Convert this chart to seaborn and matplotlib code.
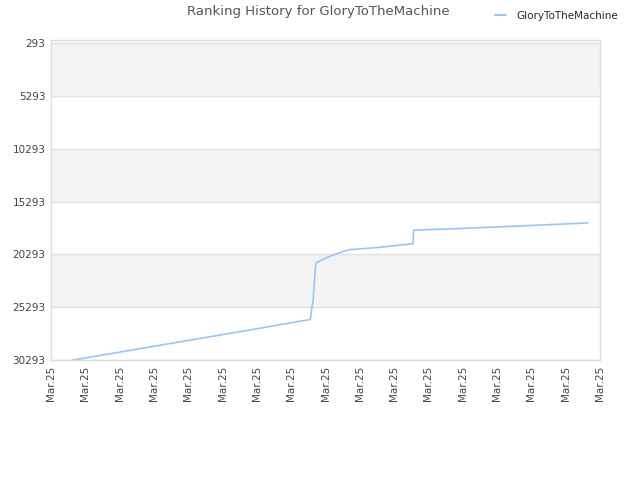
import numpy as np
import pandas as pd
import matplotlib
matplotlib.use("Agg")
import matplotlib.pyplot as plt
import seaborn as sns

# ranking history (x in tick units)
steps = [0.64, 2.0, 4.0, 6.0, 7.56, 7.6, 7.64, 7.68, 7.72, 7.96, 8.26, 8.5, 8.7,
         9.5, 10.55, 10.57, 11.5, 13.0, 15.65]
ranks = [30293, 29550, 28440, 27340, 26450, 25390, 24630, 22740, 21100, 20700,
         20310, 20040, 19850, 19650, 19280, 18000, 17900, 17700, 17320]
tick_labels = ["Mar.25"] * 17
player = "GloryToTheMachine"
y_ticks = [293, 5293, 10293, 15293, 20293, 25293, 30293]

df = pd.DataFrame({"step": steps, "rank": ranks, "player": player})

sns.set_style("white")
plt.rcParams["font.family"] = ["DejaVu Sans"]

fig = plt.figure(figsize=(6.4, 4.8), dpi=100)
ax = fig.add_axes([51 / 640, 120 / 480, 549 / 640, 320 / 480])

# alternating bands
for i in range(len(y_ticks) - 1):
    if i % 2 == 0:
        ax.axhspan(y_ticks[i], y_ticks[i + 1], color="#f3f3f3", zorder=0, lw=0)
for t in y_ticks:
    ax.axhline(t, color="#e0e0e0", lw=1, zorder=1)

sns.lineplot(data=df, x="step", y="rank", hue="player", palette=["#99c7f5"],
             lw=1.2, ax=ax, zorder=3)

ax.set_xlim(0, 16)
ax.set_ylim(30293, 0)
ax.set_yticks(y_ticks)
ax.set_yticklabels([str(t) for t in y_ticks], fontsize=7.5, color="#444444")
ax.set_xticks(np.arange(17))
ax.set_xticklabels(tick_labels, rotation=90, fontsize=7.5, color="#444444")
ax.tick_params(length=0, pad=4)
ax.set_xlabel("")
ax.set_ylabel("")
for s in ax.spines.values():
    s.set_color("#dddddd")
    s.set_linewidth(1)

fig.text(0.497, 0.975, "Ranking History for GloryToTheMachine", ha="center", va="center",
         fontsize=9.5, color="#555555")
ax.legend(loc="upper right", bbox_to_anchor=(1.05, 1.12), frameon=False,
          fontsize=7.5, handlelength=1.0, handletextpad=1.0)
for line in ax.get_legend().get_lines():
    line.set_linewidth(1.5)

fig.savefig("out.png", dpi=100)
